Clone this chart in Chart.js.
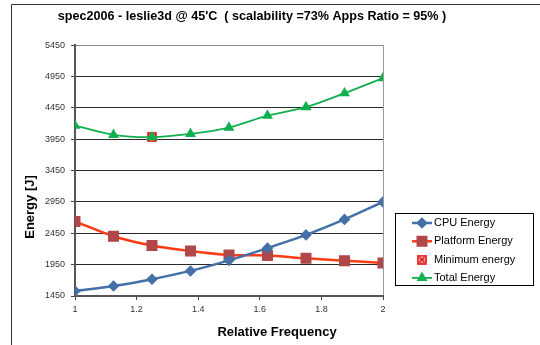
<!DOCTYPE html>
<html>
<head>
<meta charset="utf-8">
<script src="https://cdn.jsdelivr.net/npm/chart.js@4.4.1/dist/chart.umd.min.js"></script>
<style>
  html, body { margin: 0; padding: 0; background: #fff; }
  #wrap { width: 540px; height: 345px; }
</style>
</head>
<body>
<div id="wrap"><canvas id="chart"></canvas></div>
<script>
const freq = [1, 1.125, 1.25, 1.375, 1.5, 1.625, 1.75, 1.875, 2];
const cpuEnergy = [1529, 1608, 1718, 1850, 2018, 2213, 2424, 2671, 2950];
const platformEnergy = [2639, 2403, 2255, 2166, 2103, 2097, 2050, 2013, 1976];
const totalEnergy = [4166, 4018, 3982, 4034, 4134, 4324, 4460, 4682, 4924];
const minFreq = [1.25];
const minEnergy = [3982];
const xTicks = [1, 1.2, 1.4, 1.6, 1.8, 2];
const yTicks = [1450, 1950, 2450, 2950, 3450, 3950, 4450, 4950, 5450];

const FONT = '"Liberation Sans", Arial, sans-serif';

function pts(xs, ys) {
  return xs.map((x, i) => ({ x, y: ys[i] }));
}

// red square with a cross, like the excel marker
function minMarker() {
  const c = document.createElement('canvas');
  c.width = 10; c.height = 10;
  const g = c.getContext('2d');
  g.fillStyle = '#f4c8c8';
  g.fillRect(1, 1, 8, 8);
  g.strokeStyle = '#e01010';
  g.lineWidth = 1.6;
  g.strokeRect(1, 1, 8, 8);
  g.beginPath();
  g.moveTo(2.5, 2.5); g.lineTo(7.5, 7.5);
  g.moveTo(7.5, 2.5); g.lineTo(2.5, 7.5);
  g.stroke();
  return c;
}

const framePlugin = {
  id: 'frame',
  beforeDraw(chart) {
    const ctx = chart.ctx;
    ctx.save();
    ctx.fillStyle = '#fff';
    ctx.fillRect(0, 0, chart.width, chart.height);
    ctx.strokeStyle = '#333';
    ctx.lineWidth = 1;
    ctx.beginPath();
    ctx.moveTo(540, 4.5);
    ctx.lineTo(11.5, 4.5);
    ctx.lineTo(11.5, 345);
    ctx.stroke();
    ctx.restore();
  },
  afterDraw(chart) {
    const ctx = chart.ctx;
    const a = chart.chartArea;
    ctx.save();
    // axis titles
    ctx.fillStyle = '#000';
    ctx.font = 'bold 13px ' + FONT;
    ctx.textAlign = 'center';
    ctx.textBaseline = 'middle';
    ctx.fillText('Relative Frequency', 277, 332);
    ctx.translate(30, 207);
    ctx.rotate(-Math.PI / 2);
    ctx.fillText('Energy [J]', 0, 0);
    ctx.restore();

    // boxed legend
    ctx.save();
    const x0 = a.right + 12, y0 = 213, w = 138, h = 72;
    ctx.strokeStyle = '#000';
    ctx.lineWidth = 1;
    ctx.strokeRect(x0 + 0.5, y0 + 0.5, w, h);
    ctx.font = '11px ' + FONT;
    ctx.textBaseline = 'middle';
    ctx.textAlign = 'left';
    chart.data.datasets.forEach((ds, i) => {
      const y = y0 + 10 + i * 18.3;
      if (ds.showLine !== false) {
        ctx.strokeStyle = ds.borderColor;
        ctx.lineWidth = ds.borderWidth;
        ctx.beginPath();
        ctx.moveTo(x0 + 17, y);
        ctx.lineTo(x0 + 37, y);
        ctx.stroke();
      }
      ctx.fillStyle = ds.pointBackgroundColor || '#000';
      ctx.strokeStyle = ds.pointBorderColor || '#000';
      Chart.helpers.drawPoint(ctx, {
        pointStyle: ds.pointStyle, rotation: 0,
        radius: ds.pointRadius, borderWidth: 1
      }, x0 + 27, y);
      ctx.fillStyle = '#000';
      ctx.fillText(ds.label, x0 + 39, y);
    });
    ctx.restore();
  }
};

new Chart(document.getElementById('chart'), {
  type: 'line',
  data: {
    datasets: [
      {
        label: 'CPU Energy',
        data: pts(freq, cpuEnergy),
        borderColor: '#4470a8',
        backgroundColor: '#4470a8',
        pointBackgroundColor: '#4470a8',
        pointBorderColor: '#4470a8',
        pointStyle: 'rectRot',
        pointRadius: 4,
        borderWidth: 2.5,
        tension: 0.3,
        order: 1
      },
      {
        label: 'Platform Energy',
        data: pts(freq, platformEnergy),
        borderColor: '#ff3c14',
        backgroundColor: '#ff3c14',
        pointBackgroundColor: '#b0474a',
        pointBorderColor: '#b0474a',
        pointStyle: 'rect',
        pointRadius: 6,
        borderWidth: 2.5,
        tension: 0.3,
        order: 2
      },
      {
        label: 'Minimum energy',
        data: pts(minFreq, minEnergy),
        showLine: false,
        pointStyle: minMarker(),
        pointRadius: 5,
        order: 4
      },
      {
        label: 'Total Energy',
        data: pts(freq, totalEnergy),
        borderColor: '#10b050',
        backgroundColor: '#10b050',
        pointBackgroundColor: '#10b050',
        pointBorderColor: '#10b050',
        pointStyle: 'triangle',
        pointRadius: 4.5,
        borderWidth: 1.8,
        tension: 0.3,
        order: 3
      }
    ]
  },
  options: {
    responsive: true,
    maintainAspectRatio: false,
    animation: false,
    layout: { padding: { top: 0, left: 0, right: 36, bottom: 0 } },
    plugins: {
      legend: { display: false },
      tooltip: { enabled: false },
      title: {
        display: true,
        text: "spec2006 - leslie3d @ 45'C  ( scalability =73% Apps Ratio = 95% )",
        color: '#000',
        font: { family: FONT, size: 12.6, weight: 'bold' },
        padding: { top: 9, bottom: 20.9 }
      }
    },
    scales: {
      x: {
        type: 'linear',
        min: 1,
        max: 2,
        afterBuildTicks: s => { s.ticks = xTicks.map(v => ({ value: v })); },
        afterFit: s => { s.height = 49; },
        ticks: {
          color: '#333',
          font: { family: FONT, size: 9 },
          padding: 4,
          callback: v => String(v)
        },
        grid: {
          drawOnChartArea: true,
          tickLength: 4,
          tickColor: '#444',
          color: c => (c.tick && c.tick.value === 2 ? '#9a9a9a' : 'rgba(0,0,0,0)')
        },
        border: { color: '#555', width: 2 }
      },
      y: {
        type: 'linear',
        min: 1450,
        max: 5450,
        afterBuildTicks: s => { s.ticks = yTicks.map(v => ({ value: v })); },
        afterFit: s => { s.width = 75; },
        ticks: {
          color: '#333',
          font: { family: FONT, size: 9 },
          padding: 6,
          callback: v => String(v)
        },
        grid: {
          tickLength: 4,
          tickColor: '#444',
          color: c => (c.tick && c.tick.value === 5450 ? '#8a8a8a' : '#2a2a2a'),
          lineWidth: 1
        },
        border: { color: '#555', width: 2 }
      },
      yR: {
        type: 'linear',
        position: 'right',
        afterFit: s => { s.width = 121; },
        ticks: { display: false },
        grid: { display: false },
        border: { display: false }
      }
    }
  },
  plugins: [framePlugin]
});
</script>
</body>
</html>
